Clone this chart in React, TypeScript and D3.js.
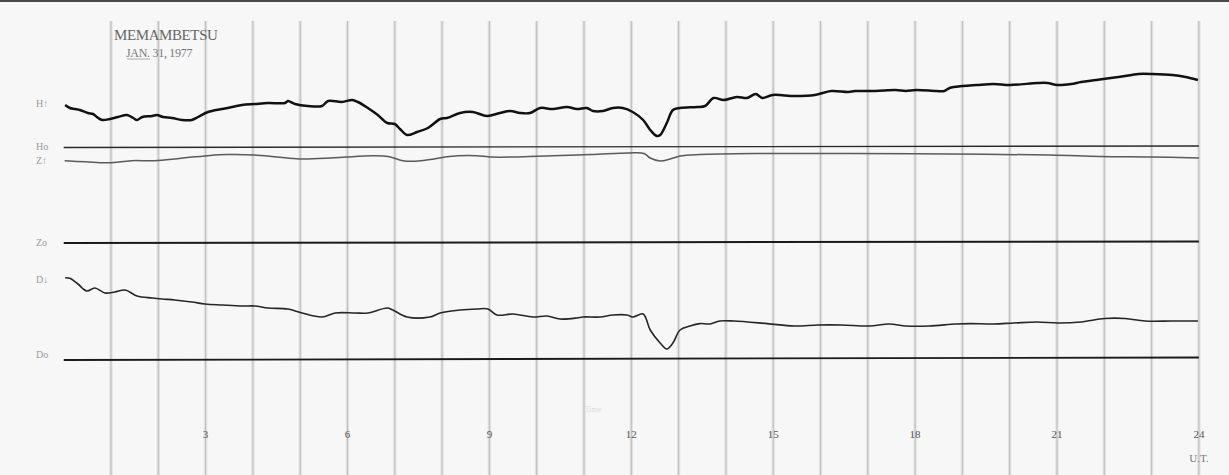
import React from 'react';
import * as d3 from 'd3';

// magnetogram, Memambetsu 1977-01-31; values are trace deflections above each baseline
const hTime = [0.03, 0.13, 0.24, 0.34, 0.51, 0.62, 0.7, 0.81, 0.98, 1.15, 1.34, 1.47, 1.55, 1.66, 1.87, 1.97, 2.1, 2.29, 2.5, 2.71, 2.84, 3.05, 3.35, 3.56, 3.77, 4.04, 4.32, 4.68, 4.74, 4.89, 5.16, 5.46, 5.59, 5.88, 6.1, 6.22, 6.43, 6.64, 6.84, 7.0, 7.11, 7.26, 7.47, 7.7, 7.96, 8.1, 8.38, 8.65, 8.95, 9.22, 9.44, 9.65, 9.86, 10.07, 10.34, 10.64, 10.85, 11.06, 11.19, 11.4, 11.61, 11.82, 12.03, 12.25, 12.4, 12.54, 12.61, 12.75, 12.88, 13.03, 13.39, 13.56, 13.74, 13.95, 14.23, 14.45, 14.63, 14.77, 14.99, 15.45, 15.88, 16.23, 16.59, 16.73, 17.16, 17.59, 17.8, 18.02, 18.45, 18.62, 18.73, 19.01, 19.3, 19.66, 20.01, 20.59, 20.8, 21.01, 21.3, 21.51, 21.83, 22.3, 22.58, 22.72, 23.01, 23.44, 23.72, 23.98];
const hValue = [42, 39, 38, 37, 34, 33, 30, 27, 28, 30, 32, 29, 27, 30, 31, 32, 30, 29, 27, 27, 30, 35, 38, 40, 42, 43, 44, 44, 46, 43, 41, 41, 46, 45, 47, 45, 39, 32, 24, 23, 18, 12, 15, 19, 28, 29, 34, 35, 31, 34, 36, 34, 34, 39, 38, 40, 38, 39, 36, 36, 39, 39, 35, 27, 17, 11, 12, 24, 37, 39, 40, 41, 49, 47, 50, 49, 53, 49, 52, 51, 52, 56, 55, 56, 56, 57, 56, 57, 56, 56, 59, 61, 62, 63, 62, 64, 64, 62, 63, 65, 67, 70, 72, 73, 73, 72, 70, 67];

const zTime = [0.02, 0.46, 0.95, 1.43, 1.92, 2.48, 3.05, 3.45, 4.02, 4.51, 4.99, 5.64, 5.97, 6.53, 6.86, 7.17, 7.5, 7.83, 8.15, 8.72, 9.03, 9.52, 10.33, 11.15, 11.95, 12.27, 12.4, 12.61, 12.82, 13.03, 13.45, 14.72, 16.62, 18.74, 20.85, 21.91, 22.97, 24.0];
const zValue = [82.3, 81.2, 80.2, 82.3, 82.3, 84.8, 87.3, 88.4, 88, 86, 84, 85, 86, 87.3, 86.6, 82.3, 82, 84.1, 86.6, 87.3, 86, 86, 87.3, 88.4, 90, 89.5, 85, 82, 84, 87, 88.5, 89.5, 89.5, 89, 88, 86.5, 86, 85];

const dTime = [0.03, 0.13, 0.3, 0.49, 0.66, 0.87, 1.08, 1.3, 1.55, 1.87, 2.08, 2.35, 2.71, 2.99, 3.35, 3.77, 4.04, 4.32, 4.74, 5.04, 5.46, 5.74, 6.16, 6.43, 6.84, 6.96, 7.26, 7.74, 7.96, 8.38, 8.74, 8.97, 9.16, 9.5, 9.92, 10.22, 10.49, 10.85, 10.98, 11.34, 11.61, 11.91, 12.03, 12.25, 12.4, 12.61, 12.75, 12.88, 13.03, 13.24, 13.45, 13.66, 13.87, 14.17, 14.87, 15.44, 15.95, 16.45, 17.03, 17.45, 17.81, 18.29, 18.86, 19.16, 19.65, 20.09, 20.58, 21.02, 21.51, 22.01, 22.44, 22.86, 23.43, 23.98];
const dValue = [82.3, 81.7, 76, 69, 72, 67, 68, 70, 64, 62, 61, 60, 58, 56, 55, 54, 54, 52, 51, 47, 43, 47, 47, 47, 52, 50, 43, 43, 47, 50, 51, 51, 45, 46, 43, 44, 41, 42, 43, 43, 45, 45, 43, 46, 30, 17, 11, 17, 30, 34, 36.4, 36, 39, 39, 36.4, 34, 35, 35, 34, 36, 34, 34, 36, 36.4, 36, 37, 38, 37, 38, 41.5, 41.5, 39, 39, 39];

// baselines drift slightly across the sheet
const baseTime = [0, 24];
const hoValue = [-0.5, 1];
const zoValue = [0, 1.5];
const doValue = [0, 2.5];

const hourLines = d3.range(1, 25);
const hourLabels = [3, 6, 9, 12, 15, 18, 21, 24];

const W = 1229;
const H = 475;

const x = d3.scaleLinear().domain([0, 24]).range([63.7, 63.7 + 24 * 47.3]);
const defl = d3.scaleLinear().domain([0, 100]).range([0, -100]);
const baseY = { h: 147, z: 243, d: 360 };

const zip = (t: number[], v: number[]) => t.map((tt, i) => [tt, v[i]] as [number, number]);

const traceGen = (y0: number) =>
  d3
    .line<[number, number]>()
    .x((d) => x(d[0]))
    .y((d) => y0 + defl(d[1]))
    .curve(d3.curveCatmullRom.alpha(0.5));

const serif = '"Liberation Serif", "DejaVu Serif", serif';

export default function App() {
  return (
    <svg
      width={W}
      height={H}
      style={{ position: 'absolute', left: 0, top: 0, background: '#f7f7f7' }}
    >
      <rect x={0} y={0} width={W} height={H} fill="#f7f7f7" />
      <rect x={0} y={0} width={W} height={2} fill="#4a4a4a" />

      {/* hourly time marks */}
      {hourLines.map((h) => (
        <g key={h}>
          <line x1={x(h)} x2={x(h)} y1={21} y2={H} stroke="#e3e3e3" strokeWidth={3.4} />
          <line x1={x(h)} x2={x(h)} y1={21} y2={H} stroke="#bdbdbd" strokeWidth={1} />
        </g>
      ))}

      {/* title */}
      <text x={114} y={40} fontFamily={serif} fontSize={15} fill="#666" letterSpacing={-0.4}>
        MEMAMBETSU
      </text>
      <text x={126} y={57} fontFamily={serif} fontSize={12} fill="#777" letterSpacing={-0.3}>
        JAN. 31, 1977
      </text>
      <line x1={127} x2={150} y1={59} y2={59} stroke="#aaa" strokeWidth={1} />

      {/* baselines */}
      <path d={traceGen(baseY.h)(zip(baseTime, hoValue)) || ''} stroke="#2a2a2a" strokeWidth={1.3} fill="none" />
      <path d={traceGen(baseY.z)(zip(baseTime, zoValue)) || ''} stroke="#1a1a1a" strokeWidth={2} fill="none" />
      <path d={traceGen(baseY.d)(zip(baseTime, doValue)) || ''} stroke="#1a1a1a" strokeWidth={1.8} fill="none" />

      {/* traces */}
      <path
        d={traceGen(baseY.z)(zip(zTime, zValue)) || ''}
        stroke="#5a5a5a"
        strokeWidth={1.5}
        fill="none"
        strokeLinejoin="round"
      />
      <path
        d={traceGen(baseY.d)(zip(dTime, dValue)) || ''}
        stroke="#262626"
        strokeWidth={1.6}
        fill="none"
        strokeLinejoin="round"
      />
      <path
        d={traceGen(baseY.h)(zip(hTime, hValue)) || ''}
        stroke="#111"
        strokeWidth={2.5}
        fill="none"
        strokeLinejoin="round"
      />

      {/* trace labels */}
      {[
        ['H↑', 107],
        ['Ho', 150],
        ['Z↑', 164],
        ['Zo', 246],
        ['D↓', 283],
        ['Do', 358],
      ].map(([t, y]) => (
        <text key={t as string} x={36} y={y as number} fontFamily={serif} fontSize={10} fill="#999">
          {t}
        </text>
      ))}

      {/* hour axis labels */}
      {hourLabels.map((h) => (
        <text
          key={h}
          x={x(h)}
          y={438}
          textAnchor="middle"
          fontFamily={serif}
          fontSize={11}
          fill="#555"
        >
          {h}
        </text>
      ))}
      <text x={x(24)} y={462} textAnchor="middle" fontFamily={serif} fontSize={11} fill="#777">
        U.T.
      </text>
      <text x={585} y={412} fontFamily={serif} fontSize={8} fill="#dcdcdc">
        Time
      </text>
    </svg>
  );
}
